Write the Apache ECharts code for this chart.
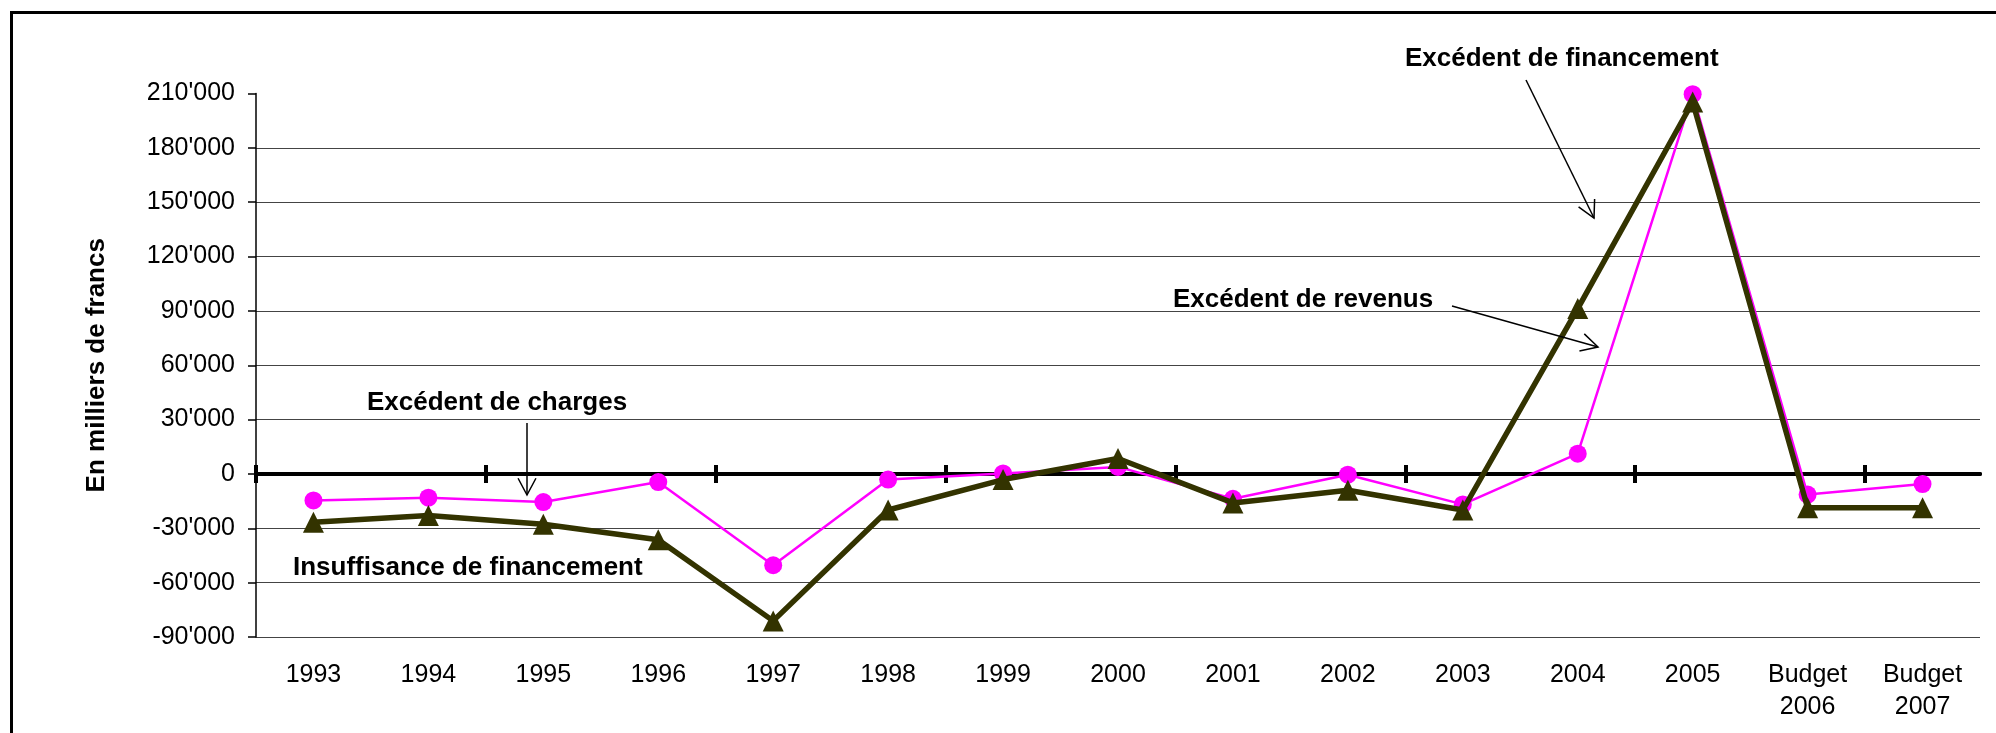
<!DOCTYPE html>
<html><head><meta charset="utf-8">
<script src="https://cdn.jsdelivr.net/npm/echarts@6/dist/echarts.min.js"></script>
<style>html,body{margin:0;padding:0;background:#fff;}#c{width:1996px;height:733px;}</style>
</head><body><div id="c"></div>
<script>
const categories = ['1993','1994','1995','1996','1997','1998','1999','2000','2001','2002','2003','2004','2005','Budget\n2006','Budget\n2007'];
const excedentRevenus = [-14600,-13100,-15500,-4500,-50400,-3100,300,3900,-13700,-400,-16800,11200,209600,-11400,-5600];
const excedentFinancement = [-26600,-22900,-27800,-36300,-81100,-19900,-3100,8500,-16000,-9000,-19900,91300,205300,-18700,-18700];
const yMin = -90000, yMax = 210000, yInterval = 30000;
const yAxisTitle = 'En milliers de francs';
const annotations = ['Excédent de financement','Excédent de revenus','Excédent de charges','Insuffisance de financement'];

const FONT = '"Liberation Sans", Arial, sans-serif';
function fmt(v){
  const s = Math.abs(v).toString().replace(/\B(?=(\d{3})+(?!\d))/g, "'");
  return (v < 0 ? '-' : '') + s;
}
function arrow(x1,y1,x2,y2){
  const ang = Math.atan2(y2-y1, x2-x1), L = 19, a = 0.49;
  return [
    {type:'line', z:100, shape:{x1,y1,x2,y2}, style:{stroke:'#000', lineWidth:1.5}},
    {type:'polyline', z:100, shape:{points:[[x2-L*Math.cos(ang-a), y2-L*Math.sin(ang-a)],[x2,y2],[x2-L*Math.cos(ang+a), y2-L*Math.sin(ang+a)]]}, style:{stroke:'#000', lineWidth:1.5, fill:null}}
  ];
}
function label(text,x,y){
  return {type:'text', z:100, x, y, style:{text, font:'bold 26px ' + FONT, fill:'#000', align:'left', verticalAlign:'middle'}};
}

const chart = echarts.init(document.getElementById('c'));
// zero-line axes (inverse so that the ticks fall on every second category boundary from the left)
const zeroAxisBase = {
  type:'category', data:categories, boundaryGap:true, position:'bottom', inverse:true,
  axisLine:{show:true, onZero:true, onZeroAxisIndex:0, lineStyle:{color:'#000', width:4, cap:'round'}},
  axisLabel:{show:false}, splitLine:{show:false}
};
const tickInterval = function(idx){ return idx % 2 === 1; };
chart.setOption({
  animation:false,
  backgroundColor:'#fff',
  grid:{left:256, right:16, top:93.5, bottom:96, containLabel:false},
  xAxis:[
    {type:'category', data:categories, boundaryGap:true, position:'bottom',
     axisLine:{show:false, onZero:false}, axisTick:{show:false}, splitLine:{show:false},
     axisLabel:{interval:0, margin:22, fontSize:25, lineHeight:32, color:'#000', fontFamily:FONT}},
    Object.assign({}, zeroAxisBase, {axisTick:{show:true, interval:tickInterval, inside:false, length:9, lineStyle:{color:'#000', width:4}}}),
    Object.assign({}, zeroAxisBase, {axisTick:{show:true, interval:tickInterval, inside:true, length:9, lineStyle:{color:'#000', width:4}}})
  ],
  yAxis:{
    type:'value', min:yMin, max:yMax, interval:yInterval,
    name:yAxisTitle, nameLocation:'middle', nameGap:146, nameRotate:90,
    nameTextStyle:{fontSize:26, fontWeight:'bold', color:'#000', fontFamily:FONT},
    axisLine:{show:true, lineStyle:{color:'#000', width:1.5}},
    axisTick:{show:true, length:8, lineStyle:{color:'#000', width:1.5}},
    axisLabel:{formatter:fmt, fontSize:25, color:'#000', margin:21, fontFamily:FONT},
    splitLine:{show:true, showMaxLine:false, lineStyle:{color:'#444', width:1}}
  },
  series:[
    {name:annotations[1], type:'line', xAxisIndex:0, data:excedentRevenus,
     symbol:'circle', symbolSize:18, itemStyle:{color:'#FF00FF'},
     lineStyle:{color:'#FF00FF', width:2.5}, z:3},
    {name:annotations[0], type:'line', xAxisIndex:0, data:excedentFinancement,
     symbol:'triangle', symbolSize:21, itemStyle:{color:'#333300'},
     lineStyle:{color:'#333300', width:5.5}, z:4}
  ],
  graphic:[
    {type:'rect', z:100, shape:{x:11.5, y:12.5, width:2100, height:900}, style:{fill:null, stroke:'#000', lineWidth:3}},
    label(annotations[0], 1405, 59),
    label(annotations[1], 1173, 300),
    label(annotations[2], 367, 403),
    label(annotations[3], 293, 568),
    ...arrow(1526, 80, 1594, 218),
    ...arrow(1452, 306, 1598, 347),
    ...arrow(527, 423, 527, 495)
  ]
});
</script></body></html>
